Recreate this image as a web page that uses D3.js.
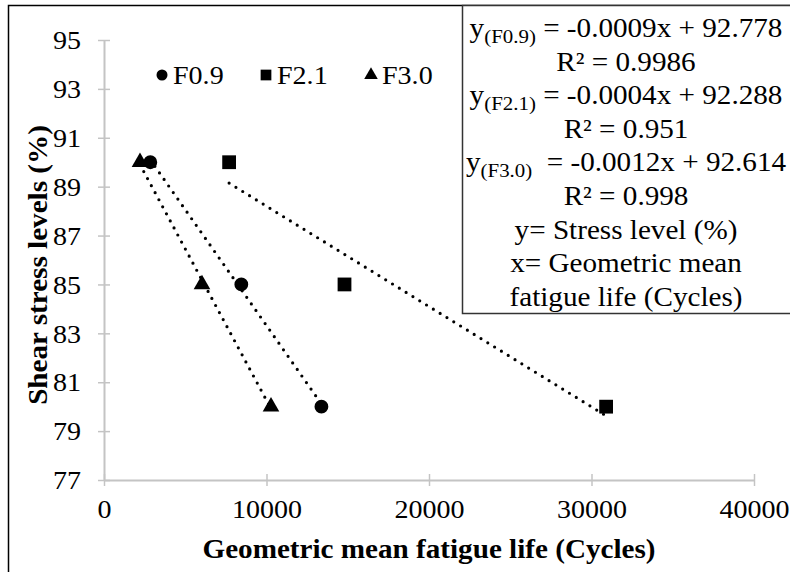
<!DOCTYPE html>
<html>
<head>
<meta charset="utf-8">
<script src="https://cdn.jsdelivr.net/npm/d3@7"></script>
<style>
  html, body { margin: 0; padding: 0; background: #fff; }
  svg { display: block; }
</style>
</head>
<body>
<svg id="chart" width="790" height="572"></svg>
<script>
// Fatigue series: stress level (%) versus geometric mean fatigue life (cycles)
const seriesNames = ["F0.9", "F2.1", "F3.0"];
const stressLevels = [90, 85, 80];
const lifeF09 = [2850, 8450, 13380];
const lifeF21 = [7700, 14800, 30900];
const lifeF30 = [2215, 6030, 10277];
const markerShapes = ["circle", "square", "triangle"];

const xTicks = [0, 10000, 20000, 30000, 40000];
const yTicks = [77, 79, 81, 83, 85, 87, 89, 91, 93, 95];

// Regression annotation (lines of the text box)
const equationLines = [
  { sub: "(F0.9)", text: " = -0.0009x + 92.778" },
  { text: "R² = 0.9986" },
  { sub: "(F2.1)", text: " = -0.0004x + 92.288" },
  { text: "R² = 0.951" },
  { sub: "(F3.0)", text: "  = -0.0012x + 92.614" },
  { text: "R² = 0.998" },
  { text: "y= Stress level (%)" },
  { text: "x= Geometric mean" },
  { text: "fatigue life (Cycles)" }
];

const xTitle = "Geometric mean fatigue life (Cycles)";
const yTitle = "Shear stress levels (%)";

const FONT = "'Liberation Serif', 'Times New Roman', 'DejaVu Serif', serif";
const svg = d3.select("#chart");
const SX = 1.1; // horizontal text stretch

const x = d3.scaleLinear().domain([0, 40000]).range([104, 754]);
const y = d3.scaleLinear().domain([77, 95]).range([480, 40]);

function label(sel) {
  return sel.style("font-family", FONT).style("fill", "#000");
}

// outer frame
svg.append("rect")
  .attr("x", 8.5).attr("y", 5.5).attr("width", 900).attr("height", 700)
  .attr("fill", "none").attr("stroke", "#000").attr("stroke-width", 1.5);

const axisColor = "#c4c4c4";

// Y axis with crossing ticks
const yAxis = svg.append("g").attr("transform", "translate(104,0)")
  .call(d3.axisLeft(y).tickValues(yTicks).tickSize(0).tickFormat(d => d));
yAxis.select(".domain").attr("stroke", axisColor).attr("stroke-width", 2);
yAxis.selectAll(".tick line").attr("x1", -6).attr("x2", 6)
  .attr("stroke", axisColor).attr("stroke-width", 1.5);
yAxis.selectAll(".tick text").remove();
yAxis.selectAll(".tick").append("text")
  .attr("transform", `translate(-23,0) scale(${SX},1)`)
  .attr("text-anchor", "end").attr("dy", "0.34em")
  .style("font-size", "25.5px")
  .call(label)
  .text(d => d);

// X axis with crossing ticks
const xAxis = svg.append("g").attr("transform", "translate(0,480)")
  .call(d3.axisBottom(x).tickValues(xTicks).tickSize(0).tickFormat(d => d));
xAxis.select(".domain").attr("stroke", axisColor).attr("stroke-width", 2);
xAxis.selectAll(".tick line").attr("y1", -6).attr("y2", 6)
  .attr("stroke", axisColor).attr("stroke-width", 1.5);
xAxis.selectAll(".tick text").remove();
xAxis.selectAll(".tick").append("text")
  .attr("transform", `translate(0,38) scale(${SX},1)`)
  .attr("text-anchor", "middle")
  .style("font-size", "25.5px")
  .call(label)
  .text(d => d);

// axis titles
svg.append("text")
  .attr("transform", `translate(429,558) scale(${SX},1)`)
  .attr("text-anchor", "middle")
  .style("font-size", "26.5px").style("font-weight", "bold")
  .call(label)
  .text(xTitle);
svg.append("text")
  .attr("transform", `translate(47,265) rotate(-90) scale(${SX},1)`)
  .attr("text-anchor", "middle")
  .style("font-size", "26.5px").style("font-weight", "bold")
  .call(label)
  .text(yTitle);

// least-squares linear fit
function fit(xs, ys) {
  const mx = d3.mean(xs), my = d3.mean(ys);
  let sxy = 0, sxx = 0;
  xs.forEach((v, i) => { sxy += (v - mx) * (ys[i] - my); sxx += (v - mx) ** 2; });
  const m = sxy / sxx;
  return { m, b: my - m * mx };
}

const seriesLives = [lifeF09, lifeF21, lifeF30];
const series = seriesNames.map((name, i) => ({
  name, shape: markerShapes[i],
  points: seriesLives[i].map((v, j) => ({ x: v, y: stressLevels[j] }))
}));

// dotted trend lines
const trend = svg.append("g");
series.forEach(s => {
  const xs = s.points.map(p => p.x), ys = s.points.map(p => p.y);
  const f = fit(xs, ys);
  const [x0, x1] = d3.extent(xs);
  trend.append("line")
    .attr("x1", x(x0)).attr("y1", y(f.m * x0 + f.b))
    .attr("x2", x(x1)).attr("y2", y(f.m * x1 + f.b))
    .attr("stroke", "#000").attr("stroke-width", 3.2)
    .attr("stroke-linecap", "round").attr("stroke-dasharray", "0 8");
});

// markers
const symbolFor = {
  circle: d3.symbol().type(d3.symbolCircle).size(150),
  square: d3.symbol().type(d3.symbolSquare).size(190),
  triangle: d3.symbol().type(d3.symbolTriangle).size(120)
};
series.forEach(s => {
  svg.append("g").selectAll("path").data(s.points).join("path")
    .attr("transform", p => `translate(${x(p.x)},${y(p.y)})`)
    .attr("d", symbolFor[s.shape]())
    .attr("fill", "#000");
});

// legend
const legendSymbols = {
  circle: d3.symbol().type(d3.symbolCircle).size(95),
  square: d3.symbol().type(d3.symbolSquare).size(115),
  triangle: d3.symbol().type(d3.symbolTriangle).size(80)
};
const legendX = [162, 266, 371];
const legend = svg.append("g");
series.forEach((s, i) => {
  legend.append("path")
    .attr("transform", `translate(${legendX[i]},75)`)
    .attr("d", legendSymbols[s.shape]())
    .attr("fill", "#000");
  legend.append("text")
    .attr("transform", `translate(${legendX[i] + 11},84) scale(${SX},1)`)
    .style("font-size", "25.5px")
    .call(label)
    .text(s.name);
});

// equation box
svg.append("rect")
  .attr("x", 462.5).attr("y", 5.5).attr("width", 400).attr("height", 308)
  .attr("fill", "#fff").attr("stroke", "#333").attr("stroke-width", 1.5);
const eq = svg.append("g");
equationLines.forEach((ln, i) => {
  const t = eq.append("text")
    .attr("transform", `translate(626,${37 + 33.6 * i}) scale(${SX},1)`)
    .attr("text-anchor", "middle")
    .style("font-size", "26.5px")
    .style("white-space", "pre")
    .call(label);
  if (ln.sub) {
    t.append("tspan").text("y");
    t.append("tspan").attr("dy", 6).style("font-size", "19px").text(ln.sub);
    t.append("tspan").attr("dy", -6).text(ln.text);
  } else {
    t.text(ln.text);
  }
});
</script>
</body>
</html>
